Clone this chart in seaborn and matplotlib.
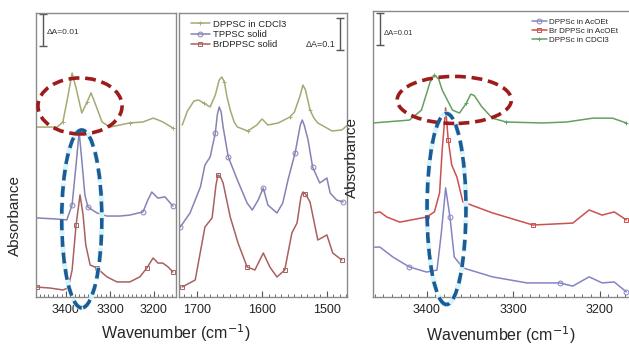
# IR spectra: N-H stretch region (left, right) and amide region (middle)
import seaborn as sns
import matplotlib.pyplot as plt
from matplotlib.patches import Ellipse
from matplotlib.ticker import MultipleLocator

# === Data (wavenumber in cm-1, absorbance with stacking offset) ===
# left panel, N-H region
nh_green_wn = [3468, 3420, 3407, 3395, 3386, 3377, 3364, 3352, 3343, 3334, 3318, 3300, 3255, 3225, 3202, 3190, 3180, 3157]
nh_green_a = [0.0531, 0.0531, 0.0547, 0.0631, 0.0700, 0.0653, 0.0575, 0.0609, 0.0638, 0.0606, 0.0547, 0.0531,
              0.0544, 0.0547, 0.0559, 0.0553, 0.0547, 0.0528]
nh_blue_wn = [3466, 3425, 3398, 3386, 3377, 3370, 3364, 3357, 3350, 3330, 3307, 3277, 3255, 3225, 3214, 3205, 3191, 3175, 3157]
nh_blue_a = [0.0247, 0.0244, 0.0241, 0.0288, 0.0413, 0.0516, 0.0428, 0.0319, 0.0281, 0.0263, 0.0253, 0.0253,
             0.0256, 0.0266, 0.0303, 0.0328, 0.0309, 0.0313, 0.0284]
nh_red_wn = [3466, 3436, 3407, 3395, 3386, 3377, 3368, 3361, 3355, 3345, 3330, 3307, 3284, 3255, 3232, 3216, 3202, 3191, 3180, 3168, 3157]
nh_red_a = [0.0031, 0.0028, 0.0022, 0.0028, 0.0084, 0.0225, 0.0319, 0.0256, 0.0163, 0.0100, 0.0091, 0.0063,
            0.0047, 0.0047, 0.0063, 0.0091, 0.0122, 0.0106, 0.0106, 0.0094, 0.0078]

# middle panel, amide region
co_green_wn = [1723, 1715, 1705, 1698, 1690, 1680, 1672, 1666, 1662, 1658, 1654, 1649, 1643, 1638, 1622, 1608,
               1600, 1591, 1575, 1557, 1550, 1541, 1537, 1533, 1526, 1520, 1514, 1492, 1477, 1468]
co_green_a = [0.5375, 0.5813, 0.6125, 0.6156, 0.6063, 0.5938, 0.6313, 0.6781, 0.6875, 0.6719, 0.6250, 0.5844,
              0.5469, 0.5313, 0.5188, 0.5375, 0.5563, 0.5375, 0.5438, 0.5625, 0.5781, 0.6313, 0.6625, 0.6469,
              0.5844, 0.5594, 0.5438, 0.5188, 0.5219, 0.5375]
co_blue_wn = [1726, 1711, 1695, 1688, 1680, 1672, 1669, 1666, 1663, 1660, 1652, 1638, 1623, 1615, 1606, 1598,
              1591, 1577, 1568, 1560, 1549, 1541, 1538, 1535, 1529, 1522, 1511, 1500, 1495, 1485, 1475]
co_blue_a = [0.2188, 0.2625, 0.3438, 0.4125, 0.4375, 0.5125, 0.5688, 0.5938, 0.5781, 0.5313, 0.4375, 0.3656,
             0.2938, 0.2719, 0.3031, 0.3406, 0.2875, 0.2625, 0.2938, 0.3656, 0.4500, 0.5375, 0.5531, 0.5375,
             0.4906, 0.4063, 0.3563, 0.3719, 0.3250, 0.3031, 0.2969]
co_red_wn = [1723, 1703, 1688, 1677, 1671, 1668, 1664, 1660, 1649, 1637, 1623, 1611, 1598, 1588, 1577, 1565,
             1554, 1546, 1540, 1537, 1533, 1526, 1514, 1500, 1491, 1477]
co_red_a = [0.0313, 0.0531, 0.2188, 0.2469, 0.3500, 0.3813, 0.3750, 0.3563, 0.2500, 0.1688, 0.0938, 0.0844,
            0.1375, 0.0938, 0.0625, 0.0844, 0.2000, 0.2313, 0.3125, 0.3281, 0.3219, 0.2969, 0.1781, 0.1938,
            0.1375, 0.1156]

# right panel, N-H region in solution
sol_blue_wn = [3460, 3454, 3439, 3420, 3400, 3388, 3383, 3378, 3373, 3368, 3358, 3324, 3284, 3246, 3231, 3212, 3197, 3183, 3169]
sol_blue_a = [0.0156, 0.0156, 0.0125, 0.0094, 0.0078, 0.0084, 0.0200, 0.0341, 0.0250, 0.0125, 0.0091, 0.0063,
              0.0044, 0.0044, 0.0034, 0.0063, 0.0044, 0.0047, 0.0016]
sol_red_wn = [3460, 3454, 3446, 3431, 3400, 3391, 3385, 3382, 3378, 3375, 3371, 3365, 3358, 3324, 3277, 3231,
              3212, 3197, 3183, 3169]
sol_red_a = [0.0263, 0.0266, 0.0250, 0.0234, 0.0250, 0.0266, 0.0325, 0.0459, 0.0591, 0.0491, 0.0413, 0.0375,
             0.0297, 0.0263, 0.0225, 0.0231, 0.0272, 0.0256, 0.0266, 0.0241]
sol_green_wn = [3462, 3420, 3406, 3396, 3391, 3386, 3382, 3370, 3362, 3354, 3349, 3345, 3336, 3324, 3308, 3266, 3238, 3208, 3185, 3169]
sol_green_a = [0.0544, 0.0553, 0.0584, 0.0672, 0.0694, 0.0681, 0.0647, 0.0584, 0.0575, 0.0606, 0.0634, 0.0630,
               0.0594, 0.0559, 0.0547, 0.0544, 0.0547, 0.0559, 0.0559, 0.0544]

mid_labels = ["DPPSC in CDCl3", "TPPSC solid", "BrDPPSC solid"]
right_labels = ["DPPSc in AcOEt", "Br DPPSc in AcOEt", "DPPSc in CDCl3"]

# === Style ===
sns.set_style("white")
plt.rcParams['font.family'] = ['Liberation Sans', 'DejaVu Sans']

fig = plt.figure(figsize=(6.29, 3.49), dpi=100)
ax1 = fig.add_axes([36 / 629, 52 / 349, 140 / 629, 284 / 349])
ax2 = fig.add_axes([179 / 629, 52 / 349, 168 / 629, 284 / 349])
ax3 = fig.add_axes([373 / 629, 52 / 349, 262 / 629, 286 / 349])

green, blue, red = "#a3ab74", "#8583b5", "#a8615f"
green2, blue2, red2 = "#64a064", "#8484c4", "#cc5050"


def spectrum(ax, wn, a, color, marker, label=None):
    sns.lineplot(x=wn, y=a, ax=ax, color=color, lw=1.1, marker=marker, markersize=3.5,
                 fillstyle='none', markevery=5, mew=0.7, mec=color, mfc='none',
                 label=label, legend=label is not None)


spectrum(ax1, nh_green_wn, nh_green_a, green, '+')
spectrum(ax1, nh_blue_wn, nh_blue_a, blue, 'o')
spectrum(ax1, nh_red_wn, nh_red_a, red, 's')

spectrum(ax2, co_green_wn, co_green_a, green, '+', mid_labels[0])
spectrum(ax2, co_blue_wn, co_blue_a, blue, 'o', mid_labels[1])
spectrum(ax2, co_red_wn, co_red_a, red, 's', mid_labels[2])

spectrum(ax3, sol_blue_wn, sol_blue_a, blue2, 'o', right_labels[0])
spectrum(ax3, sol_red_wn, sol_red_a, red2, 's', right_labels[1])
spectrum(ax3, sol_green_wn, sol_green_a, green2, '+', right_labels[2])

ax1.set_xlim(3468, 3150)
ax1.set_ylim(0, 0.08875)
ax2.set_xlim(1728, 1469)
ax2.set_ylim(0, 0.8875)
ax3.set_xlim(3462, 3159)
ax3.set_ylim(0, 0.0894)

for ax in (ax1, ax2, ax3):
    ax.set_xlabel("")
    ax.set_ylabel("")
    ax.set_yticks([])
    ax.xaxis.set_major_locator(MultipleLocator(100))
    ax.xaxis.set_minor_locator(MultipleLocator(10))
    ax.tick_params(axis='x', which='both', direction='in', bottom=True, colors='#555555',
                   labelcolor='#222222', labelsize=9, pad=5)
    ax.tick_params(axis='x', which='major', length=4, width=0.8)
    ax.tick_params(axis='x', which='minor', length=2, width=0.6)
    for s in ax.spines.values():
        s.set_color('#8a8a8a')
        s.set_linewidth(1.0)

# scale bars
ax1.errorbar([3452], [0.0834], yerr=0.005, fmt='none', ecolor='#555555', elinewidth=1, capsize=3)
ax1.text(3443, 0.0825, "ΔA=0.01", fontsize=6, va='center', ha='left', color='#333333')
ax2.errorbar([1480], [0.822], yerr=0.05, fmt='none', ecolor='#555555', elinewidth=1, capsize=3)
ax2.text(1486, 0.79, "ΔA=0.1", fontsize=6.5, va='center', ha='right', color='#333333')
ax3.errorbar([3454], [0.0838], yerr=0.005, fmt='none', ecolor='#555555', elinewidth=1, capsize=3)
ax3.text(3449, 0.0825, "ΔA=0.01", fontsize=5.5, va='center', ha='left', color='#333333')

# legends
ax2.legend(loc='upper left', bbox_to_anchor=(0.03, 1.0), frameon=False, fontsize=6.8,
           handlelength=2.0, handletextpad=0.4, labelspacing=0.15, borderaxespad=0.3)
ax3.legend(loc='upper left', bbox_to_anchor=(0.58, 1.0), frameon=False, fontsize=5.8,
           handlelength=1.8, handletextpad=0.3, labelspacing=0.15, borderaxespad=0.5)


# dashed ellipses marking the N-H bands
def ring(ax, xy, w, h, color, glow=None):
    if glow:
        ax.add_patch(Ellipse(xy, w, h, fill=False, ec=glow, lw=3.6, ls=(0, (2.6, 1.3)),
                             clip_on=False, zorder=9))
    ax.add_patch(Ellipse(xy, w, h, fill=False, ec=color, lw=2.6, ls=(0, (3, 1.6)),
                         clip_on=False, zorder=10))


ring(ax1, (3368, 0.0597), 191, 0.0175, "#9e1b1b")
ring(ax1, (3364, 0.0244), 91, 0.0556, "#1a5c96", glow="#d8f2fa")
ring(ax3, (3368, 0.0616), 132, 0.0147, "#9e1b1b")
ring(ax3, (3377, 0.0275), 45, 0.0597, "#1a5c96", glow="#d8f2fa")

# axis titles
fig.text(15 / 629, 1 - 215 / 349, "Absorbance", rotation=90, ha='center', va='center', fontsize=11)
fig.text(352 / 629, 1 - 157 / 349, "Absorbance", rotation=90, ha='center', va='center', fontsize=11)
fig.text(176 / 629, 1 - 333 / 349, "Wavenumber (cm$^{-1}$)", ha='center', va='center', fontsize=11.5)
fig.text(501 / 629, 1 - 335 / 349, "Wavenumber (cm$^{-1}$)", ha='center', va='center', fontsize=11.5)

fig.savefig("out.png", dpi=100)
